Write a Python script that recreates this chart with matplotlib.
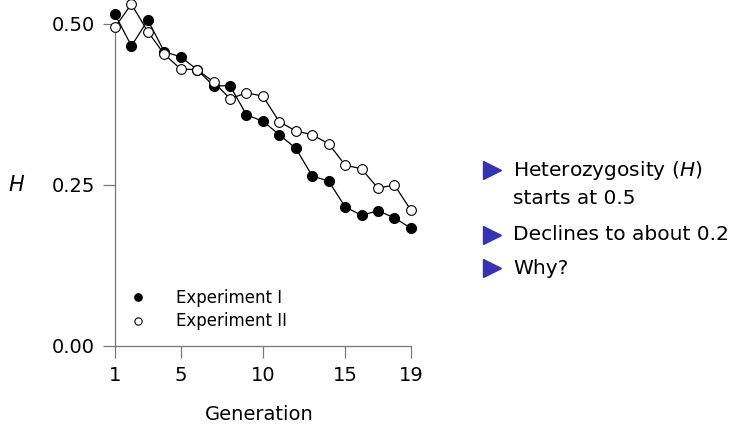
import numpy as np
import matplotlib
matplotlib.use("Agg")
import matplotlib.pyplot as plt
from matplotlib.lines import Line2D

# heterozygosity per generation
generation = np.arange(1, 20)
exp1 = [0.515, 0.466, 0.506, 0.457, 0.449, 0.429, 0.404, 0.404, 0.359, 0.349,
        0.328, 0.307, 0.264, 0.256, 0.216, 0.203, 0.210, 0.199, 0.183]
exp2 = [0.495, 0.531, 0.488, 0.453, 0.430, 0.429, 0.410, 0.384, 0.393, 0.388,
        0.348, 0.334, 0.328, 0.314, 0.281, 0.275, 0.245, 0.250, 0.211]
xticks = [1, 5, 10, 15, 19]
yticks = [0.0, 0.25, 0.5]
bullets = ["Heterozygosity ($H$)\nstarts at 0.5", "Declines to about 0.2", "Why?"]

plt.rcParams['font.family'] = ['DejaVu Sans']
plt.rcParams['mathtext.fontset'] = 'dejavusans'

fig = plt.figure(figsize=(7.33, 4.28), dpi=100)
ax = fig.add_axes([0.1434, 0.1766, 0.4216, 0.820])

ax.plot(generation, exp1, color='k', lw=0.9, marker='o', ms=7.0,
        mfc='k', mec='k', clip_on=False, label="Experiment I", zorder=3)
ax.plot(generation, exp2, color='k', lw=0.9, marker='o', ms=7.0,
        mfc='white', mec='k', mew=0.8, clip_on=False, label="Experiment II", zorder=3)

ax.set_xlim(0.4, 19.2)
ax.set_ylim(-0.01, 0.535)
ax.set_xticks(xticks)
ax.set_yticks(yticks)
ax.set_yticklabels(["%.2f" % v for v in yticks])

for side in ['top', 'right']:
    ax.spines[side].set_visible(False)
ax.spines['left'].set_bounds(0, 0.5)
ax.spines['bottom'].set_bounds(1, 19)
ax.spines['left'].set_position(('data', 1))
ax.spines['bottom'].set_position(('data', 0))
for side in ['left', 'bottom']:
    ax.spines[side].set_color('#777777')
    ax.spines[side].set_linewidth(0.9)
ax.tick_params(direction='out', length=8.6, width=0.9, color='#777777',
               labelsize=14, pad=6)

ax.set_xlabel("Generation", fontsize=14, labelpad=14)
ax.set_ylabel("$H$", fontsize=15, rotation=0, va='center', ha='center')
ax.yaxis.set_label_coords(-0.285, 0.477)

leg = ax.legend(loc='lower left', bbox_to_anchor=(0.03, 0.02), frameon=False,
                fontsize=12, markerscale=0.75, handlelength=1.0,
                handletextpad=1.8, labelspacing=0.35)
for ln in leg.get_lines():
    ln.set_linestyle('none')

# bullet points on the right
bullet_y = [170, 235, 268]
for text, y in zip(bullets, bullet_y):
    fy = 1 - y / 428.0
    fig.add_artist(Line2D([492 / 733.0], [fy], marker='>', ms=13,
                          color='#3333b3', transform=fig.transFigure, lw=0))
    two = '\n' in text
    fig.text(513 / 733.0, fy + (11 / 428.0 if two else 0), text,
             fontsize=14.5, va='top' if two else 'center',
             linespacing=1.45)

fig.savefig("out.png", dpi=100)
